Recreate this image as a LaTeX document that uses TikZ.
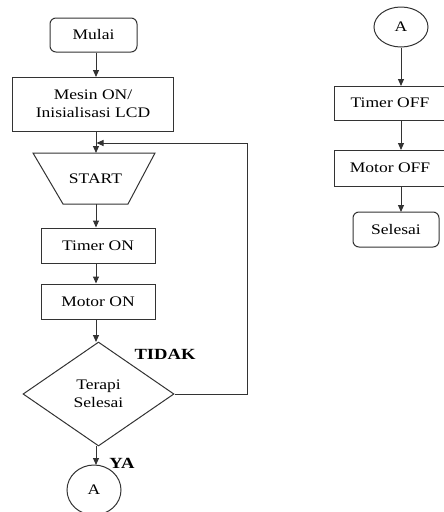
\documentclass[tikz,border=0pt]{standalone}
\usepackage{fontspec}
\setmainfont{Liberation Serif}[FakeStretch=1.2]
\usetikzlibrary{arrows.meta,shapes.geometric}
\begin{document}
\begin{tikzpicture}[x=1pt,y=-1pt,
  line width=1pt,
  every node/.style={font=\fontsize{14.6}{18}\selectfont, align=center, inner sep=0pt},
  box/.style={draw=black!80, rectangle, minimum width=#1, minimum height=35},
  rbox/.style={draw=black!80, rectangle, rounded corners=6pt, minimum width=#1, minimum height=35},
  oval/.style={draw=black!80, ellipse, minimum width=54, minimum height=#1},
  arr/.style={draw=black!80, -{Triangle[length=7pt,width=6pt]}},
  lbl/.style={font=\fontsize{15.5}{17}\selectfont\bfseries}
]
\clip (0,0) rectangle (444,512);
% left column
\node[rbox=87, minimum height=34] (mulai) at (93.5,35) {Mulai};
\node[box=161, minimum height=54] (mesin) at (93,104) {Mesin ON/\\Inisialisasi LCD};
\draw[black!80] (33,153) -- (155,153) -- (128,204) -- (63,204) -- cycle;
\node (start) at (95.5,178.5) {START};
\coordinate (starttop) at (96,153);
\coordinate (startbot) at (96,204);
\node[box=114] (timeron) at (98,245.5) {Timer ON};
\node[box=114] (motoron) at (98,301.5) {Motor ON};
\node[draw=black!80, diamond, minimum width=151, minimum height=104, aspect=1.45] (dec) at (98.5,394) {Terapi\\Selesai};
\node[oval=50] (a1) at (94,490) {A};
% left arrows
\draw[arr] (mulai.south -| 96,0) -- (96,77);
\draw[arr] (96,131) -- (starttop);
\draw[arr] (startbot) -- (timeron.north -| 96,0);
\draw[arr] (timeron.south -| 96,0) -- (motoron.north -| 96,0);
\draw[arr] (motoron.south -| 96,0) -- (96,342);
\draw[arr] (96,446) -- (96,465);
\coordinate (fb1) at (247,394);
\coordinate (fb2) at (247,143);
\coordinate (fb3) at (96.5,143);
\draw[arr] (dec.east) -- (fb1) -- (fb2) -- (fb3);
\node[lbl] (tidak) at (165,354) {TIDAK};
\node[lbl] (ya) at (122,463) {YA};
% right column
\node[oval=40] (a2) at (401,27) {A};
\node[box=112, minimum height=34] (timeroff) at (390,103) {Timer OFF};
\node[box=112, minimum height=36] (motoroff) at (390,168) {Motor OFF};
\node[rbox=86] (selesai) at (396,229.5) {Selesai};
\draw[arr] (a2.south) -- (401,86);
\draw[arr] (401,120) -- (401,150);
\draw[arr] (401,186) -- (401,212);
\end{tikzpicture}
\end{document}
